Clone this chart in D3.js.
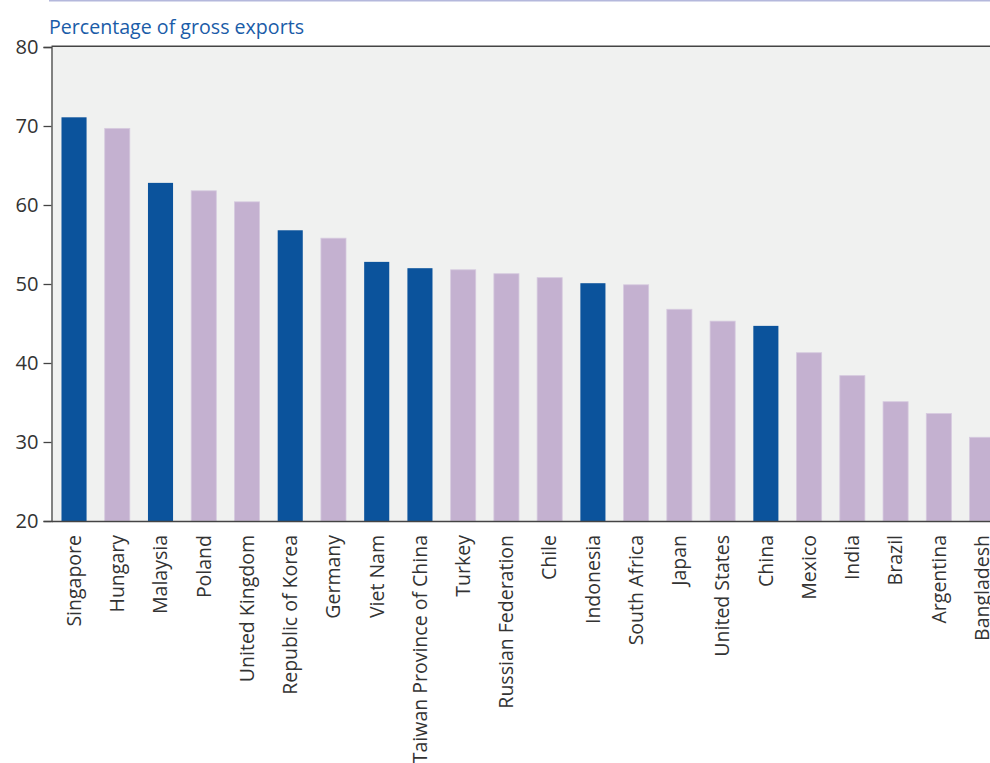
<!DOCTYPE html>
<html><head><meta charset="utf-8">
<script src="https://cdn.jsdelivr.net/npm/d3@7"></script>
<style>html,body{margin:0;padding:0;background:#fff;overflow:hidden}</style>
</head><body>
<script>
const categories = ["Singapore","Hungary","Malaysia","Poland","United Kingdom","Republic of Korea","Germany","Viet Nam","Taiwan Province of China","Turkey","Russian Federation","Chile","Indonesia","South Africa","Japan","United States","China","Mexico","India","Brazil","Argentina","Bangladesh"];
const values = [71.1,69.7,62.8,61.8,60.4,56.8,55.8,52.8,52.0,51.8,51.3,50.8,50.1,49.9,46.8,45.3,44.7,41.3,38.4,35.1,33.6,30.6];
const highlighted = ["Singapore","Malaysia","Republic of Korea","Viet Nam","Taiwan Province of China","Indonesia","China"];
const yTicks = [20,30,40,50,60,70,80];
const title = "Percentage of gross exports";

(function () {
const W = 990, H = 763;
const svg = d3.select("body").append("svg").attr("width", W).attr("height", H);
const mLeft = 51.5, mTop = 47, mBottom = 521;
const n = categories.length;
const step = 43.24;
const pi = 0.42, po = 0.231;
const x = d3.scaleBand().domain(categories)
  .range([mLeft, mLeft + step * (n - pi + 2 * po)])
  .paddingInner(pi).paddingOuter(po);
const y = d3.scaleLinear().domain([20, 80]).range([mBottom, mTop]);

// top rule
svg.append("line").attr("x1", 49).attr("x2", W).attr("y1", 0.8).attr("y2", 0.8)
  .attr("stroke", "#b4b8dc").attr("stroke-width", 1.6);

// plot background
svg.append("rect").attr("x", mLeft).attr("y", mTop).attr("width", W - mLeft).attr("height", mBottom - mTop)
  .attr("fill", "#f0f1f0");

// title
svg.append("text").attr("x", 49).attr("y", 33.5).text(title)
  .attr("font-family", "'Open Sans', sans-serif").attr("font-size", 20.5).attr("fill", "#1a5ca8")
  .attr("textLength", 255).attr("lengthAdjust", "spacingAndGlyphs");

// bars
svg.append("g").selectAll("rect").data(categories).join("rect")
  .attr("x", d => x(d)).attr("width", x.bandwidth())
  .attr("y", (d, i) => y(values[i])).attr("height", (d, i) => mBottom - y(values[i]))
  .attr("fill", d => highlighted.includes(d) ? "#0b539c" : "#c4b1d0")
  .attr("stroke", d => highlighted.includes(d) ? "none" : "#d6cadf").attr("stroke-width", 0.8);

// top border line
svg.append("line").attr("x1", mLeft).attr("x2", W).attr("y1", mTop - 0.7).attr("y2", mTop - 0.7)
  .attr("stroke", "#444").attr("stroke-width", 1.5);

// y axis
const yAxis = svg.append("g").attr("transform", `translate(${mLeft},0)`)
  .call(d3.axisLeft(y).tickValues(yTicks).tickSize(8).tickPadding(5));
yAxis.select(".domain").attr("stroke", "#444").attr("stroke-width", 1.3);
yAxis.selectAll(".tick line").attr("stroke", "#444").attr("stroke-width", 1.3);
yAxis.selectAll("text").attr("font-family", "'Open Sans', sans-serif").attr("font-size", 20.5).attr("fill", "#333")
  .attr("textLength", 23).attr("lengthAdjust", "spacingAndGlyphs");

// x axis
const xAxis = svg.append("g").attr("transform", `translate(0,${mBottom})`)
  .call(d3.axisBottom(x).tickSize(0));
xAxis.select(".domain").attr("stroke", "#444").attr("stroke-width", 1.5);
xAxis.selectAll("text")
  .attr("font-family", "'Open Sans', sans-serif").attr("font-size", 19.5).attr("fill", "#333")
  .attr("transform", "rotate(-90)").attr("text-anchor", "end")
  .attr("x", -14).attr("y", 0).attr("dy", "0.35em");
})();
</script>
</body></html>
